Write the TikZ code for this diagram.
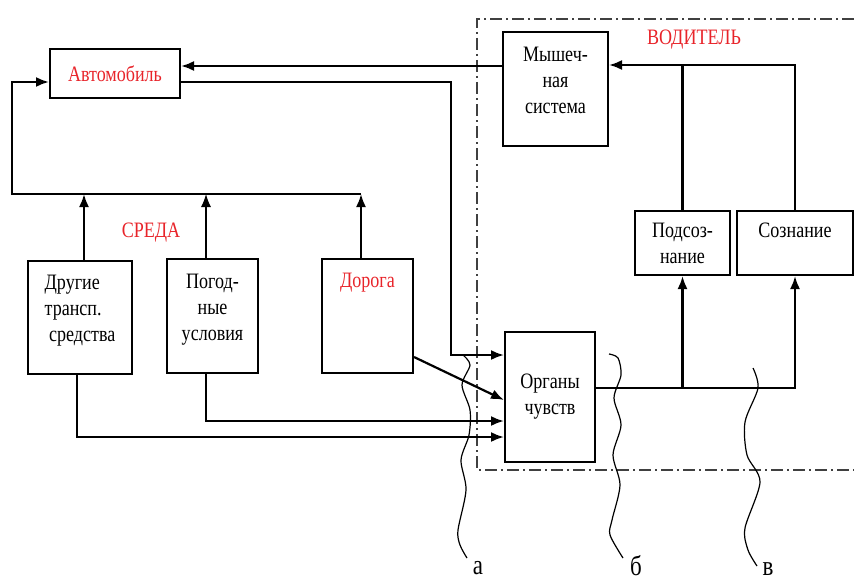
\documentclass[tikz,border=0pt]{standalone}
\usepackage{fontspec}
\setmainfont{Liberation Serif}[FakeStretch=0.82]
\usepackage{tikz}
\usetikzlibrary{arrows.meta, calc, positioning}
\definecolor{lblred}{RGB}{232,36,42}
\tikzstyle{line} = [draw, line width=1.1pt, -{Latex[length=6.5pt,width=5pt]}]

\begin{document}
\begin{tikzpicture}[x=0.5pt,y=-0.5pt,
box/.style={draw,line width=1pt,rectangle,align=center,inner sep=0pt,
 font=\fontsize{11}{13}\selectfont},
lbl/.style={font=\fontsize{11}{13}\selectfont,text=lblred},
wave/.style={line width=0.6pt},
frame/.style={line width=0.8pt,black!75,dash pattern=on 6pt off 2pt on 1pt off 2pt}]
 \useasboundingbox (0,0) rectangle (854,583);
 % environment
 \node[box,text=lblred,minimum width=65pt,minimum height=24.5pt] (avto) at (115,73.5) {Автомобиль};
 \node[box,align=left,minimum width=52pt,minimum height=56.5pt,text depth=9pt] (other) at (80,317.5) {Другие\\трансп.\\\ средства};
 \node[box,minimum width=45.5pt,minimum height=57pt,text depth=9pt] (weather) at (212.5,316) {Погод-\\ные\\условия};
 \node[box,text=lblred,minimum width=45.5pt,minimum height=57pt,text depth=35.5pt] (road) at (367.5,316) {Дорога};
 \node[lbl] (env) at (151,233) {СРЕДА};
 % driver
 \node[box,minimum width=52.5pt,minimum height=57pt,text depth=9pt] (muscle) at (555.5,89) {Мышеч-\\ная\\система};
 \node[box,minimum width=47.5pt,minimum height=32pt] (subc) at (682.5,243) {Подсоз-\\нание};
 \node[box,minimum width=58pt,minimum height=32pt,text depth=12.5pt] (consc) at (795,243) {Сознание};
 \node[box,minimum width=45pt,minimum height=65pt] (organs) at (550,397) {Органы\\чувств};
 \node[lbl] (driver) at (694,40) {ВОДИТЕЛЬ};
 \draw[frame] (854,19) -| (477,470) -- (854,470);
 % connections
 \coordinate (bus) at (12,194);
 \coordinate (mIn) at ([yshift=12pt]muscle.east);
 \coordinate (oOut) at ([yshift=4.5pt]organs.east);
 \coordinate (oTop) at ([yshift=21pt]organs.west);
 \draw[line] ([yshift=11.5pt]muscle.west) -- ([yshift=11.5pt]muscle.west -| avto.east);
 \draw[line] (consc.north) |- (mIn);
 \draw[line width=1.1pt] (subc.north) -- (subc.north |- mIn);
 \draw[line] (oOut) -| (consc.south);
 \draw[line] (oOut -| subc.south) -- (subc.south);
 \draw[line] ([yshift=-4.25pt]avto.east) -| ([xshift=-26.5pt]oTop) -- (oTop);
 \draw[line] ([xshift=2pt]other.north) -- ([xshift=2pt]other.north |- bus);
 \draw[line,line width=0.6pt] ([xshift=-3.25pt]weather.north) -- ([xshift=-3.25pt]weather.north |- bus);
 \draw[line] ([xshift=-3.25pt]road.north) -- ([xshift=-3.25pt]road.north |- bus);
 \draw[line] ([xshift=-3.25pt]road.north |- bus) -- (bus) |- ([yshift=-4.25pt]avto.west);
 \draw[line] ([yshift=-20.5pt]road.east) -- ([yshift=-1.5pt]organs.west);
 \draw[line] ([xshift=-3.25pt]weather.south) |- ([yshift=-12pt]organs.west);
 \draw[line] ([xshift=-1.5pt]other.south) |- ([yshift=-20pt]organs.west);
 % section lines
 \draw[wave] plot[smooth] coordinates {(463,355) (470,365) (462,385) (470,410) (469,435) (461,460) (466,490) (458,530) (460,545) (467,558)};
 \draw[wave] plot[smooth] coordinates {(609,354) (618,358) (621,375) (614,398) (621,425) (613,455) (620,485) (612,520) (610,535) (623,558)};
 \draw[wave] plot[smooth] coordinates {(753,368) (758,388) (745,422) (747,455) (760,482) (745,528) (748,550) (757,566)};
 \node[font=\fontsize{14}{16}\selectfont] (la) at (478,568) {а};
 \node[font=\fontsize{14}{16}\selectfont] (lb) at (636,566) {б};
 \node[font=\fontsize{14}{16}\selectfont] (lv) at (768,569) {в};
\end{tikzpicture}
\end{document}
